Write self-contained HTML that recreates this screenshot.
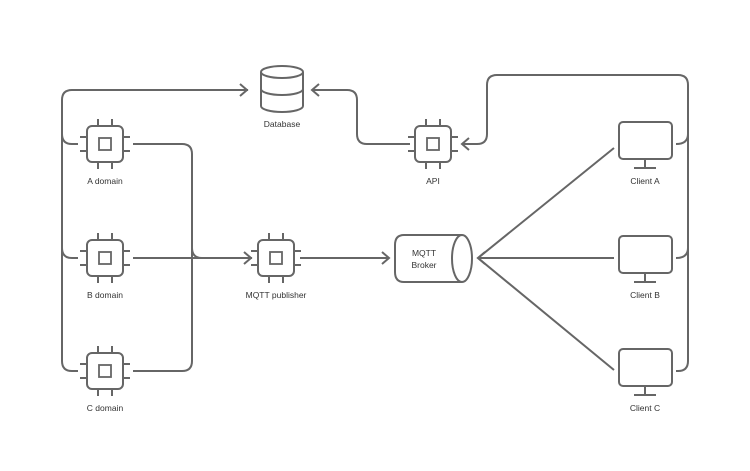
<!DOCTYPE html>
<html><head><meta charset="utf-8"><style>
html,body{margin:0;padding:0;background:#fff;}
svg{display:block;}
text{font-family:"Liberation Sans",sans-serif;font-size:8.5px;fill:#333;text-anchor:middle;}
</style></head><body>
<svg width="750" height="471" viewBox="0 0 750 471" xmlns="http://www.w3.org/2000/svg">
<defs>
<g id="chip" fill="none" stroke="#666" stroke-width="2">
  <rect x="-18" y="-18" width="36" height="36" rx="5" fill="#fff"/>
  <rect x="-6" y="-6" width="12" height="12" stroke-width="1.8"/>
  <path d="M-7,-18v-7M7,-18v-7M-7,18v7M7,18v7M-18,-7h-7M-18,7h-7M18,-7h7M18,7h7"/>
</g>
<g id="mon" fill="none" stroke="#666" stroke-width="2">
  <rect x="-26" y="-18" width="53" height="37" rx="4" fill="#fff"/>
  <path d="M0,19v9M-11,28h22"/>
</g>
</defs>
<g fill="none" stroke="#666" stroke-width="2">
  <!-- left bus -->
  <path d="M248,90H72Q62,90 62,100V361Q62,371 72,371H78"/>
  <path d="M62,134Q62,144 72,144H78"/>
  <path d="M62,248Q62,258 72,258H78"/>
  <path d="M240,84l7,6l-7,6"/>
  <!-- right of domain chips -->
  <path d="M133,144H182Q192,144 192,154V361Q192,371 182,371H133"/>
  <path d="M133,258H252"/>
  <path d="M192,248Q192,258 202,258"/>
  <path d="M244,252l7,6l-7,6"/>
  <!-- publisher to broker -->
  <path d="M300,258H389"/>
  <path d="M382,252l7,6l-7,6"/>
  <!-- API to DB -->
  <path d="M410,144H367Q357,144 357,134V100Q357,90 347,90H312"/>
  <path d="M319,84l-7,6l7,6"/>
  <!-- right bus to API -->
  <path d="M676,144Q688,144 688,134V85Q688,75 678,75H497Q487,75 487,85V134Q487,144 477,144H462"/>
  <path d="M469,138l-7,6l7,6"/>
  <path d="M688,130V361Q688,371 678,371H676"/>
  <path d="M676,258Q688,258 688,248"/>
  <!-- clients to broker -->
  <path d="M614,148L478,258L614,370M478,258H614"/>
  <path d="M485,252l-7,6l7,6"/>
  <!-- database -->
  <path d="M261,72V106A21,6 0 0 0 303,106V72" fill="#fff"/>
  <ellipse cx="282" cy="72" rx="21" ry="6" fill="#fff"/>
  <path d="M261,89A21,6 0 0 0 303,89"/>
  <!-- broker -->
  <path d="M462,235H404Q395,235 395,245V272Q395,282 404,282H462" fill="#fff"/>
  <ellipse cx="462" cy="258.5" rx="10" ry="23.5" fill="#fff"/>
</g>
<use href="#chip" x="105" y="144"/>
<use href="#chip" x="105" y="258"/>
<use href="#chip" x="105" y="371"/>
<use href="#chip" x="276" y="258"/>
<use href="#chip" x="433" y="144"/>
<use href="#mon" x="645" y="140"/>
<use href="#mon" x="645" y="254"/>
<use href="#mon" x="645" y="367"/>
<text x="282" y="127">Database</text>
<text x="105" y="184">A domain</text>
<text x="105" y="298">B domain</text>
<text x="105" y="411">C domain</text>
<text x="276" y="298">MQTT publisher</text>
<text x="433" y="184">API</text>
<text x="424" y="256">MQTT</text>
<text x="424" y="268">Broker</text>
<text x="645" y="184">Client A</text>
<text x="645" y="298">Client B</text>
<text x="645" y="411">Client C</text>
</svg>
</body></html>
